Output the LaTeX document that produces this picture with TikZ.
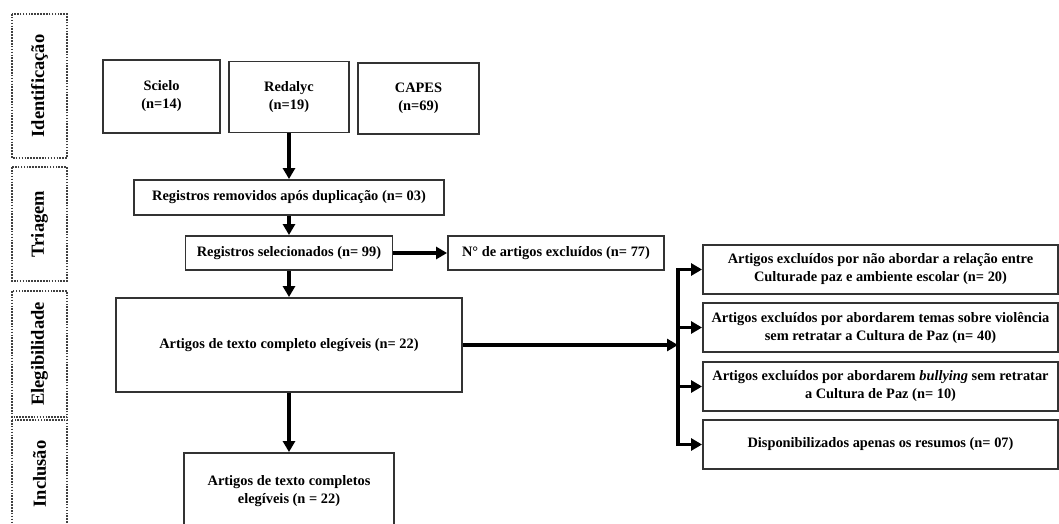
\documentclass[tikz,border=0pt]{standalone}
\usepackage{fontspec}
\setmainfont{Liberation Serif}
\usetikzlibrary{arrows.meta}

\tikzset{
  caixa/.style={draw=black!80, line width=1.9pt, fill=white, align=center, inner sep=0pt,
    font=\bfseries\fontsize{14.4}{18}\selectfont},
  fase/.style={draw=black!75, line width=1.9pt, dash pattern=on 1.6pt off 1.3pt, rotate=90,
    minimum height=55pt, inner sep=0pt, font=\bfseries\fontsize{18.5}{20}\selectfont},
  seta/.style={line width=3.6pt, -{Triangle[length=11pt,width=12pt]}},
}

\begin{document}
\begin{tikzpicture}[x=1pt,y=-1pt]
\clip (0,0) rectangle (1059,524);
\fill[white] (0,0) rectangle (1059,524);

% phases on the left
\node[fase, minimum width=144pt] (fid) at (39.5,86) {Identificação};
\node[fase, minimum width=114pt] (ftr) at (39.5,224) {Triagem};
\node[fase, minimum width=126pt] (fel) at (39.5,354) {Elegibilidade};
\node[fase, minimum width=108pt] (fin) at (39.5,474) {Inclusão};

% databases
\node[caixa, minimum width=117pt, minimum height=73pt] (scielo) at (161.5,96.5) {Scielo\\(n=14)};
\node[caixa, minimum width=120pt, minimum height=71pt] (redalyc) at (289,97) {Redalyc\\(n=19)};
\node[caixa, minimum width=121pt, minimum height=71pt] (capes) at (418.5,98.5) {CAPES\\(n=69)};

% screening
\node[caixa, minimum width=310pt, minimum height=35pt] (rem) at (289,197.5) {Registros removidos após duplicação (n= 03)};
\node[caixa, minimum width=207pt, minimum height=34pt] (sel) at (289,253) {Registros selecionados (n= 99)};
\node[caixa, minimum width=216pt, minimum height=34pt] (excl) at (556,253) {N° de artigos excluídos (n= 77)};

% eligibility and inclusion
\node[caixa, minimum width=346pt, minimum height=94pt] (eleg) at (289,345) {Artigos de texto completo elegíveis (n= 22)};
\node[caixa, minimum width=210pt, minimum height=76pt] (final) at (289,491) {Artigos de texto completos\\elegíveis (n = 22)};

% excluded full texts
\node[caixa, minimum width=355pt, minimum height=49pt] (ex1) at (880.5,269.5) {Artigos excluídos por não abordar a relação entre\\Culturade paz e ambiente escolar (n= 20)};
\node[caixa, minimum width=355pt, minimum height=49pt] (ex2) at (880.5,327.5) {Artigos excluídos por abordarem temas sobre violência\\sem retratar a Cultura de Paz (n= 40)};
\node[caixa, minimum width=355pt, minimum height=49pt] (ex3) at (880.5,386.5) {Artigos excluídos por abordarem \textit{bullying} sem retratar\\a Cultura de Paz (n= 10)};
\node[caixa, minimum width=355pt, minimum height=49pt] (ex4) at (880.5,444.5) {Disponibilizados apenas os resumos (n= 07)};

% main flow
\draw[seta] (redalyc) -- (rem);
\draw[seta] (rem) -- (sel);
\draw[seta] (sel) -- (excl);
\draw[seta] (sel) -- (eleg);
\draw[seta] (eleg) -- (final);

% branch to the exclusions
\coordinate (jun) at (678,345);
\draw[seta] (eleg) -- (jun);
\draw[line width=3.6pt, line cap=rect] (jun |- ex1.west) -- (jun |- ex4.west);
\draw[seta] (jun |- ex1.west) -- (ex1.west);
\draw[seta] (jun |- ex2.west) -- (ex2.west);
\draw[seta] (jun |- ex3.west) -- (ex3.west);
\draw[seta] (jun |- ex4.west) -- (ex4.west);

\end{tikzpicture}
\end{document}
